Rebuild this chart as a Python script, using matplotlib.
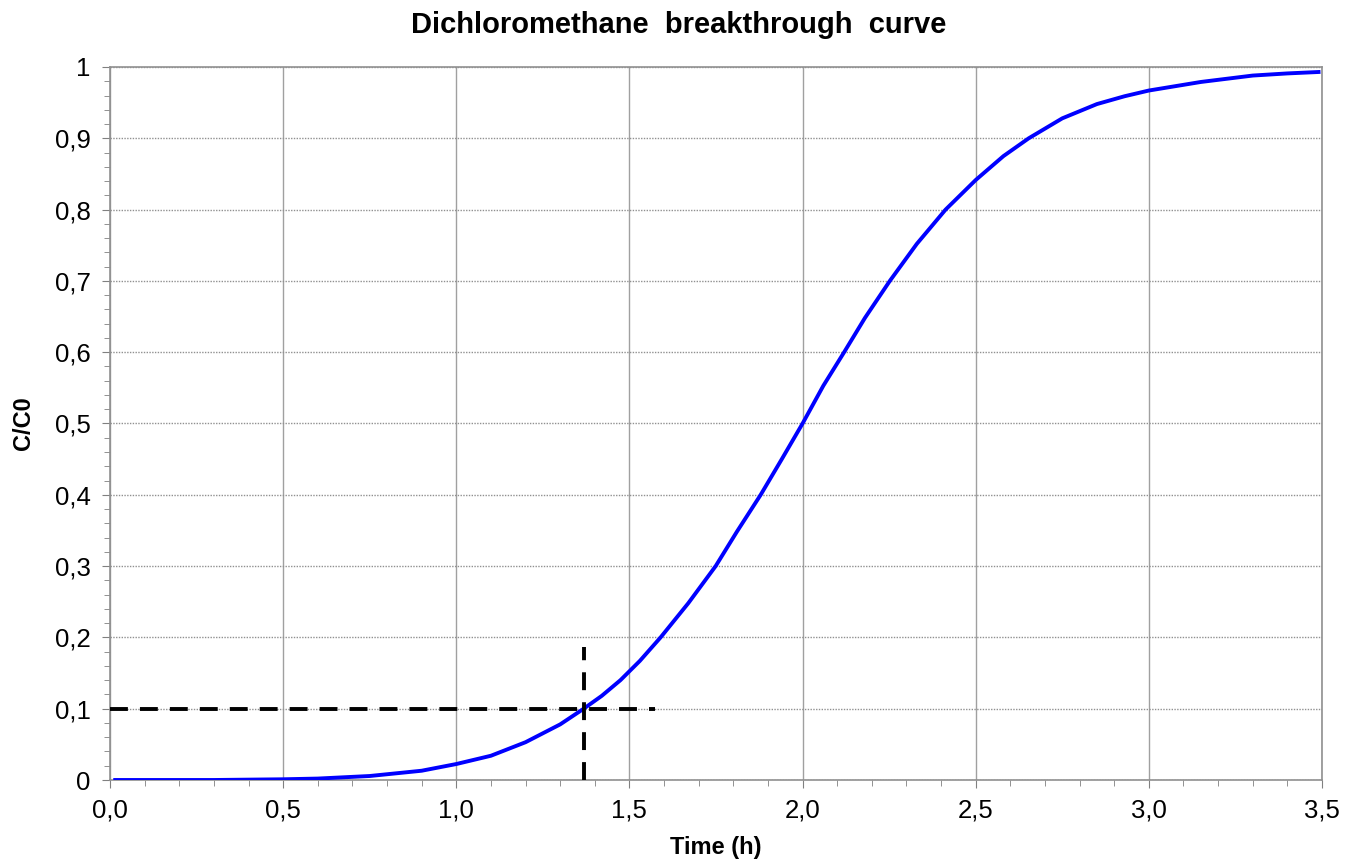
import matplotlib.pyplot as plt
from matplotlib.ticker import MultipleLocator, FuncFormatter

plt.rcParams['font.family'] = ['Liberation Sans', 'DejaVu Sans']

# breakthrough curve
time_h = [0.015, 0.3, 0.5, 0.6, 0.75, 0.9, 1.0, 1.1, 1.2, 1.3, 1.368, 1.42, 1.474,
          1.53, 1.59, 1.67, 1.749, 1.81, 1.879, 1.94, 2.0, 2.06, 2.12, 2.18, 2.252,
          2.33, 2.413, 2.5, 2.58, 2.653, 2.75, 2.85, 2.93, 3.0, 3.15, 3.3, 3.4, 3.49]
c_c0 = [0.0, 0.0, 0.001, 0.002, 0.0056, 0.013, 0.0224, 0.034, 0.053, 0.078, 0.1, 0.118,
        0.14, 0.167, 0.2, 0.248, 0.3, 0.348, 0.4, 0.45, 0.5, 0.553, 0.6, 0.648, 0.7,
        0.752, 0.8, 0.8415, 0.875, 0.9, 0.928, 0.948, 0.959, 0.967, 0.979, 0.988, 0.991, 0.993]

# 10 % breakthrough marker
t_break = 1.37
c_break = 0.1
h_end = 1.575
v_top = 0.187

fig = plt.figure(figsize=(13.58, 8.63), dpi=100)
ax = fig.add_axes([110 / 1358, 83 / 863, 1212 / 1358, 713 / 863])

ax.plot(time_h, c_c0, color='#0000ff', lw=2.8, zorder=3, solid_joinstyle='round')
ax.plot([0, h_end], [c_break, c_break], color='black', lw=2.8, ls=(0, (4.6, 3.1)), zorder=4)
ax.plot([t_break, t_break], [0, v_top], color='black', lw=2.8, ls=(0, (4.6, 3.1)), zorder=4)

ax.set_xlim(0, 3.5)
ax.set_ylim(0, 1)
ax.xaxis.set_major_locator(MultipleLocator(0.5))
ax.xaxis.set_minor_locator(MultipleLocator(0.1))
ax.yaxis.set_major_locator(MultipleLocator(0.1))
ax.yaxis.set_minor_locator(MultipleLocator(0.02))

ax.xaxis.set_major_formatter(FuncFormatter(lambda v, p: f"{v:.1f}".replace('.', ',')))


def yfmt(v, p):
    if abs(v) < 1e-9:
        return "0"
    if abs(v - 1) < 1e-9:
        return "1"
    return f"{v:.1f}".replace('.', ',')


ax.yaxis.set_major_formatter(FuncFormatter(yfmt))

ax.grid(True, which='major', axis='x', color='#a0a0a0', lw=1.0)
ax.grid(True, which='major', axis='y', color='#909090', lw=1.0, ls=(0, (1, 1)))
for s in ax.spines.values():
    s.set_color('#909090')
    s.set_linewidth(1.2)
ax.tick_params(which='major', direction='out', length=6, color='#808080',
               labelsize=18.5, pad=8)
ax.tick_params(which='minor', direction='out', length=4, color='#808080')
ax.tick_params(axis='x', pad=7)

fig.text(0.5, 1 - 25 / 863, "Dichloromethane  breakthrough  curve", fontsize=21,
         fontweight='bold', ha='center', va='center')
ax.set_xlabel("Time (h)", fontsize=17, fontweight='bold', labelpad=10)
ax.set_ylabel("C/C0", fontsize=17, fontweight='bold', labelpad=14)

fig.savefig('out.png', dpi=100)
